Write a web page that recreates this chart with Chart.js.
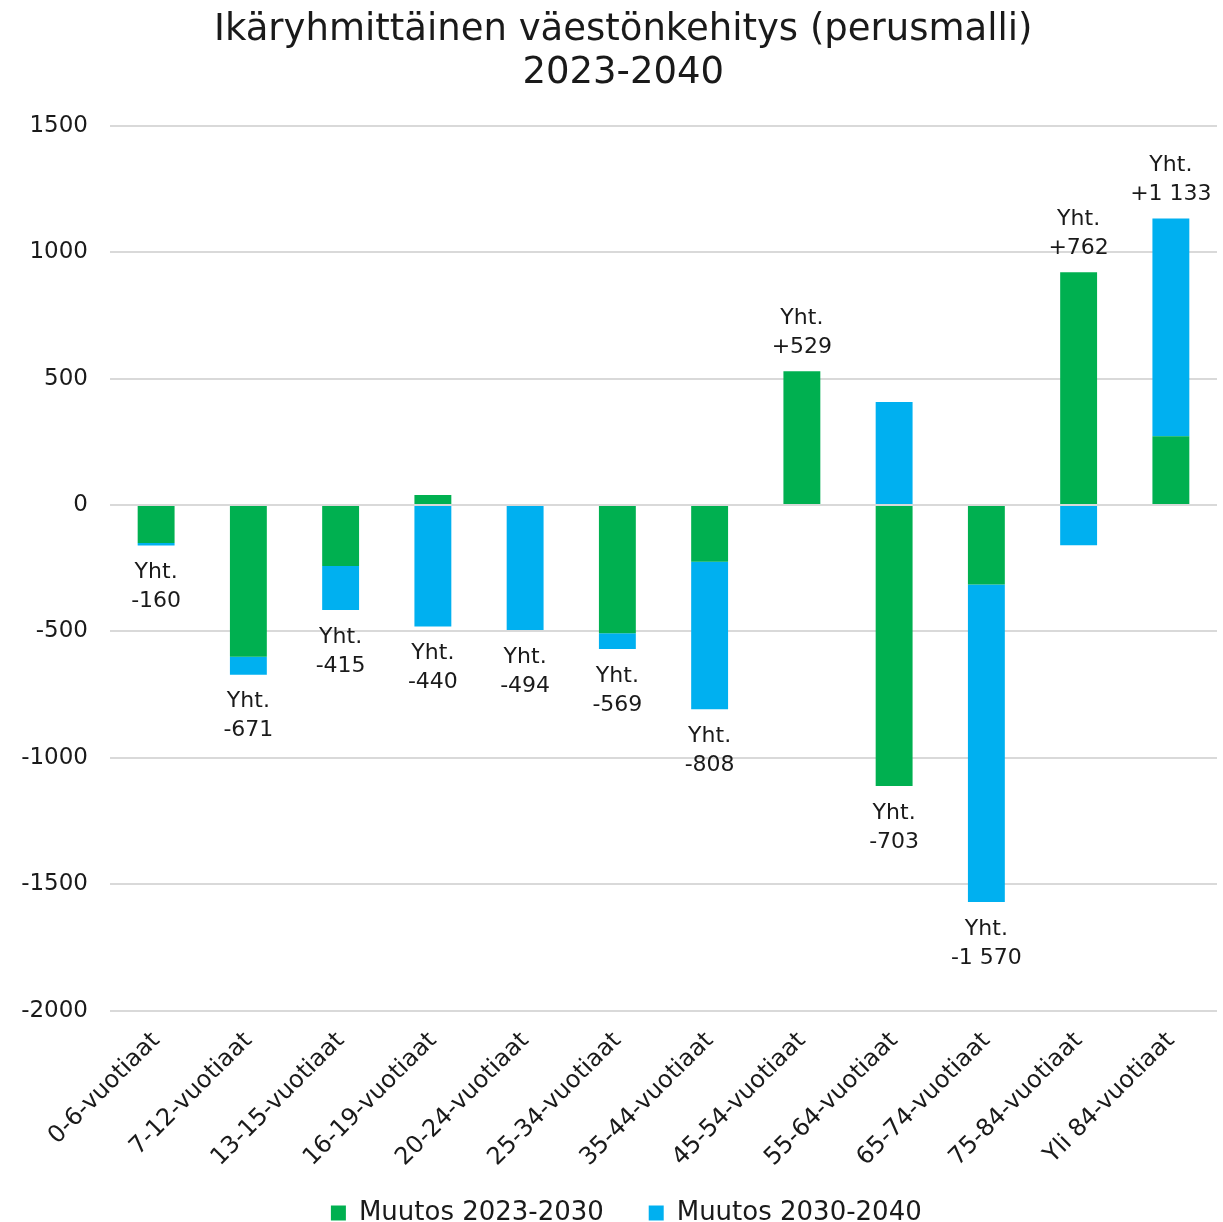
<!DOCTYPE html>
<html>
<head>
<meta charset="utf-8">
<script src="https://cdn.jsdelivr.net/npm/chart.js@4/dist/chart.umd.min.js"></script>
<style>
  html, body { margin: 0; padding: 0; background: #fff; }
  #wrap { width: 1223px; height: 1222px; }
</style>
</head>
<body>
<div id="wrap"><canvas id="myChart"></canvas></div>
<script>
const ageGroups = ['0-6-vuotiaat', '7-12-vuotiaat', '13-15-vuotiaat', '16-19-vuotiaat', '20-24-vuotiaat',
  '25-34-vuotiaat', '35-44-vuotiaat', '45-54-vuotiaat', '55-64-vuotiaat', '65-74-vuotiaat',
  '75-84-vuotiaat', 'Yli 84-vuotiaat'];
const change2023_2030 = [-150, -600, -241, 40, 0, -507, -224, 529, -1111, -314, 921, 272];
const change2030_2040 = [-10, -71, -174, -480, -494, -62, -584, 0, 408, -1256, -159, 861];
const totals = [-160, -671, -415, -440, -494, -569, -808, 529, -703, -1570, 762, 1133];

const FONT = 'DejaVu Sans';
const TEXT = '#1a1a1a';
const PAD = '\u00a0\u00a0';

function fmtTotal(v) {
  const s = Math.abs(v).toString().replace(/\B(?=(\d{3})+(?!\d))/g, ' ');
  return (v > 0 ? '+' : '-') + s;
}

// "Yht." total labels above/below the end of each stack
const totalLabels = {
  id: 'totalLabels',
  afterDatasetsDraw(chart) {
    const ctx = chart.ctx;
    const y = chart.scales.y;
    const meta = chart.getDatasetMeta(0);
    ctx.save();
    ctx.font = '22px "' + FONT + '"';
    ctx.fillStyle = TEXT;
    ctx.textAlign = 'center';
    ctx.textBaseline = 'middle';
    totals.forEach((t, i) => {
      const x = meta.data[i].x;
      const a = change2023_2030[i], b = change2030_2040[i];
      if (t < 0) {
        const low = Math.min(a, 0) + Math.min(b, 0);
        const py = y.getPixelForValue(low);
        ctx.fillText('Yht.', x, py + 27);
        ctx.fillText(fmtTotal(t), x, py + 56);
      } else {
        const high = Math.max(a, 0) + Math.max(b, 0);
        const py = y.getPixelForValue(high);
        ctx.fillText(fmtTotal(t), x, py - 24);
        ctx.fillText('Yht.', x, py - 53);
      }
    });
    ctx.restore();
  }
};

const ctx = document.getElementById('myChart').getContext('2d');
const myChart = new Chart(ctx, {
  type: 'bar',
  data: {
    labels: ageGroups,
    datasets: [{
      label: 'Muutos 2023-2030',
      data: change2023_2030,
      backgroundColor: '#00b050',
      borderWidth: 0
    }, {
      label: 'Muutos 2030-2040',
      data: change2030_2040,
      backgroundColor: '#00b0f0',
      borderWidth: 0
    }]
  },
  plugins: [totalLabels],
  options: {
    responsive: true,
    maintainAspectRatio: false,
    animation: false,
    layout: { padding: { left: 6, right: 6, top: 9, bottom: -14 } },
    datasets: { bar: { categoryPercentage: 1, barPercentage: 0.4 } },
    plugins: {
      title: {
        display: true,
        text: [PAD + 'Ikäryhmittäinen väestönkehitys (perusmalli)', PAD + '2023-2040'],
        color: TEXT,
        font: { family: FONT, size: 37, weight: 'normal', lineHeight: 1.16 },
        padding: { top: 0, bottom: 31 }
      },
      legend: {
        position: 'bottom',
        fullSize: false,
        labels: {
          color: TEXT,
          font: { family: FONT, size: 26 },
          boxWidth: 15,
          boxHeight: 15,
          padding: 20,
          // wider gap between entries, row pulled a bit left
          generateLabels(chart) {
            const items = Chart.defaults.plugins.legend.labels.generateLabels(chart);
            items[0].text += '   ';
            items[1].text += '\u00a0'.repeat(9);
            return items;
          }
        }
      },
      tooltip: { enabled: false }
    },
    scales: {
      x: {
        stacked: true,
        grid: { display: false },
        border: { display: false },
        ticks: {
          color: TEXT,
          font: { family: FONT, size: 24 },
          minRotation: 45,
          maxRotation: 45,
          padding: 8
        }
      },
      y: {
        stacked: true,
        min: -2000,
        max: 1500,
        border: { display: false },
        grid: { color: '#d9d9d9', lineWidth: 2, drawTicks: false },
        afterFit(scale) { scale.width = 104; },
        ticks: {
          stepSize: 500,
          color: TEXT,
          font: { family: FONT, size: 23 },
          padding: 22,
          callback: v => v.toString()
        }
      }
    }
  }
});
</script>
</body>
</html>
